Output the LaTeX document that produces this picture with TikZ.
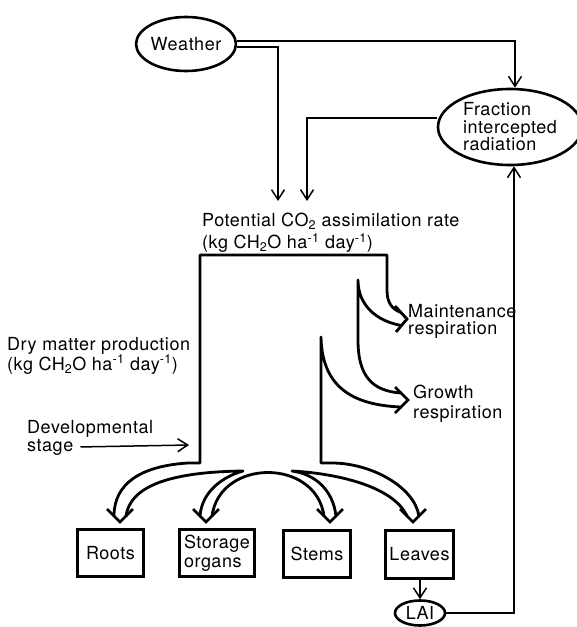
\documentclass[tikz,border=0pt]{standalone}
\usepackage{fontspec}
\setmainfont{TeX Gyre Heros}[LetterSpace=3.0]
\usetikzlibrary{arrows.meta,shapes.geometric}

\begin{document}
\begin{tikzpicture}[x=1pt,y=-1pt,
  lbl/.style={inner sep=0pt, align=left, font=\fontsize{18}{18}\selectfont},
  oval/.style={draw, ellipse, line width=2.6pt, inner sep=0pt, align=left, font=\fontsize{18}{17.5}\selectfont},
  organ/.style={draw, line width=2.8pt, inner sep=0pt, align=left, font=\fontsize{18}{19}\selectfont},
  feed/.style={line width=1.5pt, -{Straight Barb[length=10pt,width=13pt,line width=1.5pt]}},
  flow/.style={line width=2.8pt, line join=round, line cap=round},
  barb/.style={line width=2.8pt, line join=miter}]
\useasboundingbox (0,0) rectangle (577,627);

% inputs
\node[oval, minimum width=92pt, minimum height=54pt] (weather) at (186,44) {Weather};
\node[oval, minimum width=144pt, minimum height=76pt] (frac) at (510,127) {Fraction\\intercepted\\radiation};
\node[oval, minimum width=50pt, minimum height=25pt] (lai) at (420,613) {LAI};

% labels
\node[lbl, anchor=west, font=\fontsize{18}{22}\selectfont] (potential) at (202,233)
  {Potential CO\textsubscript{2} assimilation rate\\(kg CH\textsubscript{2}O ha\textsuperscript{-1} day\textsuperscript{-1})};
\node[lbl, anchor=west, font=\fontsize{18}{19}\selectfont] (drymatter) at (7,355.5)
  {Dry matter production\\(kg CH\textsubscript{2}O ha\textsuperscript{-1} day\textsuperscript{-1})};
\node[lbl, anchor=base west] (devel) at (27,433) {Developmental};
\node[lbl, anchor=base west] (stage) at (27,451) {stage};
\node[lbl, anchor=west, font=\fontsize{18}{17}\selectfont] (maint) at (408,321) {Maintenance\\respiration};
\node[lbl, anchor=west, font=\fontsize{18}{20}\selectfont] (growth) at (413,404) {Growth\\respiration};

% organs
\node[organ, minimum width=66pt, minimum height=47pt] (roots) at (110.5,553) {Roots};
\node[organ, minimum width=75pt, minimum height=47pt] (storage) at (217,553) {Storage\\organs};
\node[organ, minimum width=67pt, minimum height=47pt] (stems) at (317,554) {Stems};
\node[organ, minimum width=68pt, minimum height=48pt] (leaves) at (419.5,554.5) {Leaves};

% thin connectors
\coordinate (pin1) at (278,201);
\coordinate (pin2) at (307,201);
\coordinate (devin) at (189,445);
\draw[feed] ([yshift=3pt]weather.east) -| ([xshift=5pt]frac.north);
\draw[feed] ([yshift=-3pt]weather.east) -| (pin1);
\draw[feed] ([yshift=9pt]frac.west) -| (pin2);
\draw[feed] (lai.east) -| ([xshift=4pt]frac.south);
\draw[feed] (lai.north |- leaves.south) -- (lai.north);
\draw[feed] ([xshift=7pt]stage.east) -- (devin);

% dry matter flow
\draw[flow] (114,516) .. controls (114,484) and (140,466) .. (188,463) -- (200,463) -- (200,255)
  -- (387,255) -- (387,290) .. controls (387,303) and (392,309) .. (401,312.5);
\draw[flow] (401.5,325.5) .. controls (376,321) and (358,305) .. (358,280) -- (358,340)
  .. controls (358,376) and (372,391) .. (401,393);
\draw[flow] (401,407) .. controls (350,405) and (322,385) .. (321,337) -- (321,463) -- (332,463)
  .. controls (370,463) and (414,486) .. (419,516);
\draw[flow] (126,516) .. controls (130,488) and (165,472) .. (243,471)
  .. controls (225,476) and (202,490) .. (200,516);
\draw[flow] (212,516) .. controls (220,458) and (316,458) .. (324,516);
\draw[flow] (336,516) .. controls (333,490) and (315,474) .. (292,471)
  .. controls (330,473) and (392,484) .. (407,516);

% arrow heads of the flow
\draw[barb] (395,306) -- (407,319) -- (396,332);
\draw[barb] (395,387) -- (408,400) -- (395,413);
\foreach \tx in {120,206,330,413}
  \draw[barb] (\tx-13,509) -- (\tx,522) -- (\tx+13,509);
\end{tikzpicture}
\end{document}
